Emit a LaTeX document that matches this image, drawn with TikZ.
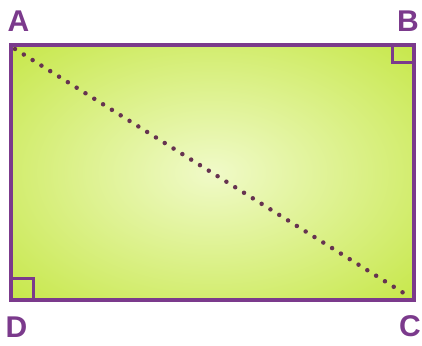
\documentclass[tikz,border=0pt]{standalone}
\usepackage{fontspec}
\setmainfont{Liberation Sans}
\usetikzlibrary{positioning,calc}
\definecolor{Plum}{HTML}{7B3A8C}
\definecolor{Dot}{HTML}{663350}
\definecolor{Lime}{HTML}{C6E748}
\definecolor{Pale}{HTML}{F0FAC8}
\pgfdeclareradialshading{glow}{\pgfpoint{0bp}{0bp}}{color(0bp)=(Pale); color(36bp)=(Lime); color(50bp)=(Lime)}

\begin{document}
\begin{tikzpicture}[x=1pt,y=1pt,
    side/.style={draw=Plum,line width=4pt},
    ra/.style={draw=Plum,line width=3pt},
    dg/.style={draw=Dot,line width=4.5pt,line cap=round,dash pattern=on 0pt off 10.4pt},
    lbl/.style={text=Plum,font=\fontsize{30}{30}\selectfont\bfseries,inner sep=0pt}]
    \useasboundingbox (0,0) rectangle (422,345);
    \coordinate (a) at (11,300); \coordinate (b) at (414,300);
    \coordinate (c) at (414,45); \coordinate (d) at (11,45);
    \shade[shading=glow] (a) rectangle (c);
    \draw[dg] ($(a)+(4,-4)$) -- ($(c)+(-4,3)$);
    \draw[ra] ($(b)+(-22,0)$) |- ($(b)+(0,-18)$);
    \draw[ra] ($(d)+(0,22)$) -| ($(d)+(22,0)$);
    \draw[side] (a) -- (b) -- (c) -- (d) -- cycle;
    \node[lbl] (A) at (18.5,324) {A};
    \node[lbl] (B) at (408,324) {B};
    \node[lbl] (C) at (410,18.5) {C};
    \node[lbl] (D) at (16.5,17.5) {D};
  \end{tikzpicture}
\end{document}
